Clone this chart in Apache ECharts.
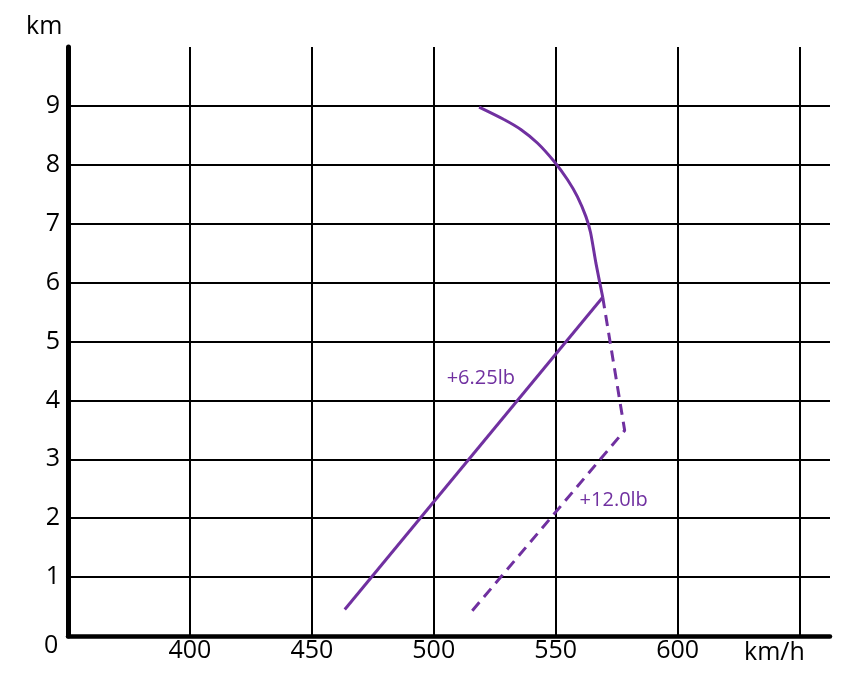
<!DOCTYPE html>
<html>
<head>
<meta charset="utf-8">
<script src="https://cdn.jsdelivr.net/npm/echarts@6/dist/echarts.min.js"></script>
<style>
  html, body { margin: 0; padding: 0; background: #fff; }
  #chart { width: 861px; height: 687px; }
</style>
</head>
<body>
<div id="chart"></div>
<script>
// climb line with +6.25lb boost (straight part)
const climbSpeed = [463.5, 569.3];
const climbAlt = [0.45, 5.75];
// above full-throttle height
const topSpeed = [569.3, 566.5, 564.3, 562.4, 558.9, 554.8, 549.3, 542.5, 535.7, 528.8, 518.6];
const topAlt = [5.75, 6.33, 6.85, 7.12, 7.46, 7.75, 8.06, 8.37, 8.6, 8.77, 8.98];
// +12.0lb boost (dashed)
const boostSpeed = [569.3, 578.3, 514.8];
const boostAlt = [5.75, 3.49, 0.38];
// series notes
const noteText = ["+6.25lb", "+12.0lb"];
const noteSpeed = [519.3, 573.8];
const noteAlt = [4.38, 2.3];
// ticks
const xTicks = [400, 450, 500, 550, 600];
const yTicks = [1, 2, 3, 4, 5, 6, 7, 8, 9];

const purple = "#7030A0";
const font = "Open Sans";
const zip = (xs, ys) => xs.map((x, i) => [x, ys[i]]);

const chart = echarts.init(document.getElementById("chart"));
chart.setOption({
    animation: false,
    textStyle: { fontFamily: font },
    grid: { left: 68, right: 31, top: 47, bottom: 51 },
    xAxis: {
        type: "value",
        min: 350,
        max: 662.5,
        interval: 50,
        axisLine: { lineStyle: { color: "#000", width: 4.5 } },
        axisTick: { show: false },
        axisLabel: {
            color: "#000",
            fontSize: 25,
            margin: 2,
            formatter: (v) => (xTicks.includes(v) ? String(v) : ""),
        },
        splitLine: {
            show: true,
            showMinLine: false,
            showMaxLine: false,
            lineStyle: { color: "#000", width: 2 },
        },
    },
    yAxis: {
        type: "value",
        min: 0,
        max: 10,
        interval: 1,
        axisLine: { show: true, lineStyle: { color: "#000", width: 5 } },
        axisTick: { show: false },
        axisLabel: {
            color: "#000",
            fontSize: 25,
            margin: 8,
            formatter: (v) => (yTicks.includes(v) ? String(v) : ""),
        },
        splitLine: {
            show: true,
            showMinLine: false,
            showMaxLine: false,
            lineStyle: { color: "#000", width: 2 },
        },
    },
    graphic: [
        { type: "text", left: 26, top: 14, style: { text: "km", font: `25px "${font}"`, fill: "#000" } },
        { type: "text", left: 44, top: 633, style: { text: "0", font: `25px "${font}"`, fill: "#000" } },
        { type: "text", left: 744, top: 640, style: { text: "km/h", font: `25px "${font}"`, fill: "#000" } },
    ],
    series: [
        {
            type: "line",
            data: zip(climbSpeed, climbAlt),
            showSymbol: false,
            lineStyle: { color: purple, width: 3 },
        },
        {
            type: "line",
            data: zip(topSpeed, topAlt),
            smooth: 0.25,
            showSymbol: false,
            lineStyle: { color: purple, width: 3 },
        },
        {
            type: "line",
            data: zip(boostSpeed, boostAlt),
            showSymbol: false,
            lineStyle: { color: purple, width: 3, type: [11, 7] },
        },
        {
            type: "scatter",
            data: noteText.map((t, i) => [noteSpeed[i], noteAlt[i], t]),
            symbolSize: 0,
            itemStyle: { opacity: 1, color: purple },
            label: {
                show: true,
                position: "inside",
                formatter: (p) => p.value[2],
                color: purple,
                opacity: 1,
                fontSize: 20,
                fontFamily: font,
            },
        },
    ],
});
</script>
</body>
</html>
